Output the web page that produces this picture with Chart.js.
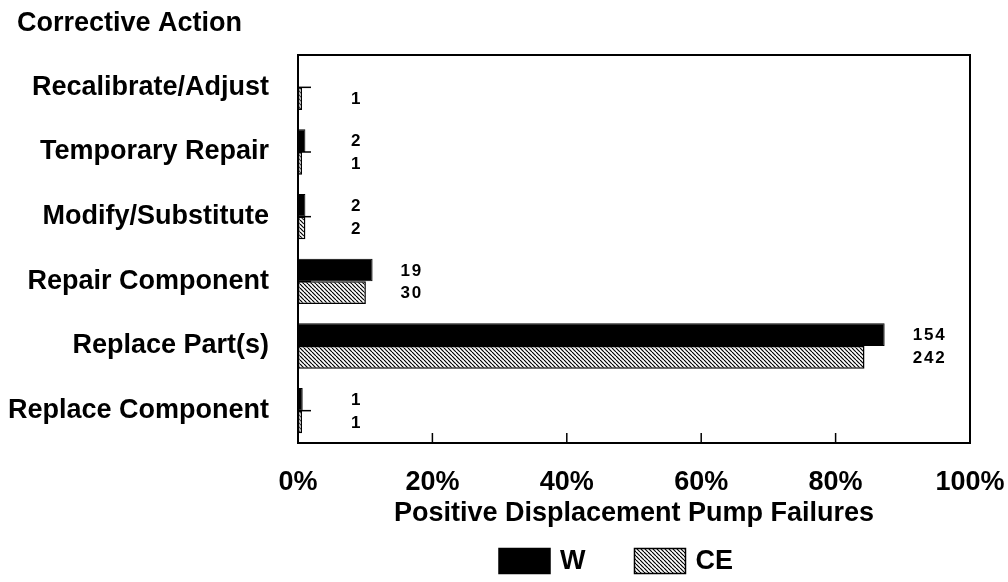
<!DOCTYPE html>
<html><head><meta charset="utf-8">
<script src="https://cdn.jsdelivr.net/npm/chart.js@4/dist/chart.umd.min.js"></script>
<style>html,body{margin:0;padding:0;background:#fff;} canvas{display:block;}</style>
</head><body>
<canvas id="c" width="1008" height="582"></canvas>
<script>
const categories = ['Recalibrate/Adjust', 'Temporary Repair', 'Modify/Substitute', 'Repair Component', 'Replace Part(s)', 'Replace Component'];
const seriesNames = ['W', 'CE'];
const wPercent = [0, 1.1, 1.1, 11.1, 87.3, 0.7];
const cePercent = [0.6, 0.6, 1.1, 10.1, 84.3, 0.6];
const wCounts = [null, 2, 2, 19, 154, 1];
const ceCounts = [1, 1, 2, 30, 242, 1];
const xTicks = [0, 20, 40, 60, 80, 100];
const chartTitle = 'Corrective Action';
const xAxisTitle = 'Positive Displacement Pump Failures';

const FAMILY = '"Liberation Sans", Arial, Helvetica, sans-serif';
const mainFont = { family: FAMILY, size: 27, weight: 'bold' };

const canvas = document.getElementById('c');
const ctx = canvas.getContext('2d');

function makeHatch() {
  const p = document.createElement('canvas');
  p.width = 4; p.height = 4;
  const g = p.getContext('2d');
  g.fillStyle = '#fff'; g.fillRect(0, 0, 4, 4);
  g.strokeStyle = '#000'; g.lineWidth = 1.2;
  for (const x0 of [-4, 0, 4]) {
    g.beginPath(); g.moveTo(x0, 0); g.lineTo(x0 + 4, 4); g.stroke();
  }
  return ctx.createPattern(p, 'repeat');
}
const hatch = makeHatch();

const framePlugin = {
  id: 'frame',
  beforeDatasetsDraw(chart) {
    const c = chart.ctx, a = chart.chartArea;
    const xs = chart.scales.x, ys = chart.scales.y;
    c.save();
    c.strokeStyle = '#000'; c.lineWidth = 1.5;
    xTicks.slice(1, -1).forEach(v => {
      const px = xs.getPixelForValue(v);
      c.beginPath(); c.moveTo(px, a.bottom); c.lineTo(px, a.bottom - 10); c.stroke();
    });
    categories.forEach((_, i) => {
      const py = ys.getPixelForValue(i);
      c.beginPath(); c.moveTo(a.left, py); c.lineTo(a.left + 13, py); c.stroke();
    });
    c.restore();
  },
  afterDatasetsDraw(chart) {
    const c = chart.ctx, a = chart.chartArea;
    c.save();
    c.strokeStyle = '#000'; c.lineWidth = 2;
    c.strokeRect(a.left, a.top, a.right - a.left, a.bottom - a.top);
    c.font = 'bold 17px ' + FAMILY;
    c.letterSpacing = '1.8px';
    c.fillStyle = '#000';
    c.textAlign = 'left'; c.textBaseline = 'middle';
    const m0 = chart.getDatasetMeta(0).data, m1 = chart.getDatasetMeta(1).data;
    const counts = [wCounts, ceCounts];
    categories.forEach((_, i) => {
      const maxEnd = Math.max(m0[i].x, m1[i].x);
      const lx = Math.max(maxEnd + 28, a.left + 53);
      [m0, m1].forEach((m, d) => {
        const v = counts[d][i];
        if (v !== null && v !== undefined) c.fillText(String(v), lx, m[i].y + 1);
      });
    });
    c.restore();
  },
  afterDraw(chart) {
    const c = chart.ctx;
    c.save();
    c.font = 'bold 27px ' + FAMILY;
    c.fillStyle = '#000'; c.textAlign = 'left'; c.textBaseline = 'middle';
    c.fillText(chartTitle, 17, 24);
    const boxW = 51, boxH = 25, textGap = 10, itemGap = 49, cx = 616, cy = 561;
    const ds = chart.data.datasets;
    const widths = ds.map(d => boxW + textGap + c.measureText(d.label).width);
    const total = widths.reduce((s, w) => s + w, 0) + itemGap * (ds.length - 1);
    let x = cx - total / 2;
    ds.forEach((d, i) => {
      c.fillStyle = d.backgroundColor;
      c.fillRect(x, cy - boxH / 2, boxW, boxH);
      c.strokeStyle = '#000'; c.lineWidth = 1.5;
      c.strokeRect(x, cy - boxH / 2, boxW, boxH);
      c.fillStyle = '#000';
      c.fillText(d.label, x + boxW + textGap, cy + 1);
      x += widths[i] + itemGap;
    });
    c.restore();
  }
};

new Chart(ctx, {
  type: 'bar',
  data: {
    labels: categories,
    datasets: [
      { label: seriesNames[0], data: wPercent, backgroundColor: '#000', borderColor: '#000', borderWidth: 1, borderSkipped: false, categoryPercentage: 0.7, barPercentage: 1.0 },
      { label: seriesNames[1], data: cePercent, backgroundColor: hatch, borderColor: '#000', borderWidth: 1.5, borderSkipped: false, categoryPercentage: 0.7, barPercentage: 1.0 }
    ]
  },
  options: {
    indexAxis: 'y',
    responsive: false,
    animation: false,
    devicePixelRatio: 1,
    layout: { padding: { left: 4, right: 38, top: 55, bottom: 50 } },
    plugins: {
      legend: { display: false },
      tooltip: { enabled: false },
      title: { display: false }
    },
    scales: {
      x: {
        type: 'linear', min: 0, max: 100,
        grid: { display: false }, border: { display: false },
        afterBuildTicks(s) { s.ticks = xTicks.map(v => ({ value: v })); },
        ticks: { callback: v => v + '%', color: '#000', font: mainFont, padding: 15, maxRotation: 0, autoSkip: false },
        title: { display: true, text: xAxisTitle, color: '#000', font: mainFont, padding: { top: 0, bottom: 2 } },
        afterFit(s) { s.height = 89; s.paddingLeft = 0; s.paddingRight = 0; }
      },
      y: {
        type: 'category',
        grid: { display: false }, border: { display: false },
        ticks: { color: '#000', font: mainFont, padding: 21, autoSkip: false },
        afterFit(s) { s.width = 294; }
      }
    }
  },
  plugins: [framePlugin]
});
</script>
</body></html>
